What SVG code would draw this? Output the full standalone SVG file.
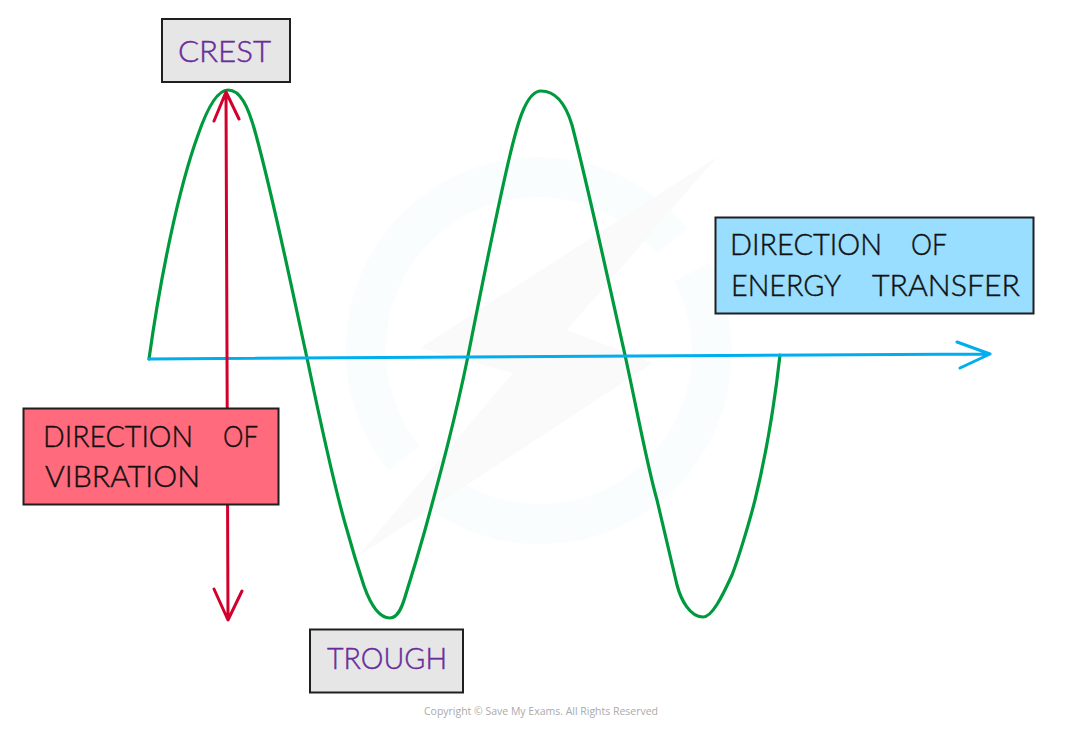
<svg xmlns="http://www.w3.org/2000/svg" width="1080" height="731" viewBox="0 0 1080 731">
<style>
.box{stroke:#1f1f1f;stroke-width:2}
.t{font-family:"Lato","Open Sans",sans-serif;font-size:30px;font-weight:300;fill:#111;stroke:#111;stroke-width:.45}
.p{fill:#6a2c9a;stroke:#6a2c9a}
.ln{fill:none;stroke-linecap:round;stroke-linejoin:round}
.g{stroke:#009a3e;stroke-width:3.2}
.r{stroke:#d2002c;stroke-width:3}
.b{stroke:#00aeef;stroke-width:3}
.wm{fill:none;stroke:#f9fdfe;stroke-width:40}
</style>
<rect width="1080" height="731" fill="#fff"/>
<g id="watermark">
<path class="wm" d="M672 241A172 172 0 1 0 404 458"/>
<path class="wm" d="M437 490A172 172 0 0 0 692 272"/>
<path d="M717 157L420 348L513 373L357 557L653 363L567 330Z" fill="#fafafa"/>
</g>
<g id="connectors">
<path class="ln g" d="M149 359C160 280 178 190 198 135C208 106 218 90 228 90C240 90 248 105 256 135C275 205 292 290 307 358C322 430 335 490 347 530C353 552 358 568 364 586C370 603 378 618 390 618C398 618 402 607 405 597C411 578 418 555 425 530C440 475 455 420 468 356C483 280 498 205 510 155C516 130 525 91 541 91C556 91 566 105 572 125C590 195 608 280 625 355C637 410 647 465 657 500C664 530 671 560 677 585C681 600 690 617 703 617C712 617 722 597 732 575C738 560 750 520 755 500C766 455 775 400 780 355"/>
<path class="ln b" d="M149 359L988 354M957 342L990 354L960 368"/>
<path class="ln r" d="M226 92L228 620M214 121L226 92L239 119M214 589L228 620L242 591"/>
</g>
<g id="crest">
<rect class="box" x="162" y="19" width="128" height="63" fill="#e6e6e6"/>
<text class="t p" x="178" y="62" textLength="93" lengthAdjust="spacingAndGlyphs">CREST</text>
</g>
<g id="energy-label">
<rect class="box" x="715.500" y="217.500" width="318" height="96" fill="#99ddff"/>
<text class="t" x="730" y="255" textLength="152" lengthAdjust="spacingAndGlyphs">DIRECTION</text>
<text class="t" x="911" y="255" textLength="36" lengthAdjust="spacingAndGlyphs">OF</text>
<text class="t" x="731" y="296" textLength="110" lengthAdjust="spacingAndGlyphs">ENERGY</text>
<text class="t" x="872" y="296" textLength="148" lengthAdjust="spacingAndGlyphs">TRANSFER</text>
</g>
<g id="vibration-label">
<rect class="box" x="23.500" y="408.500" width="255" height="96" fill="#ff6b7d"/>
<text class="t" x="43" y="447" textLength="150" lengthAdjust="spacingAndGlyphs">DIRECTION</text>
<text class="t" x="223" y="447" textLength="35" lengthAdjust="spacingAndGlyphs">OF</text>
<text class="t" x="45" y="487" textLength="155" lengthAdjust="spacingAndGlyphs">VIBRATION</text>
</g>
<g id="trough">
<rect class="box" x="310" y="629.500" width="153" height="63" fill="#e6e6e6"/>
<text class="t p" x="327" y="669" textLength="120" lengthAdjust="spacingAndGlyphs">TROUGH</text>
</g>
<text x="424" y="715" font-family="'Open Sans',sans-serif" font-size="11" fill="#aaa" textLength="234" lengthAdjust="spacingAndGlyphs">Copyright © Save My Exams. All Rights Reserved</text>
</svg>
